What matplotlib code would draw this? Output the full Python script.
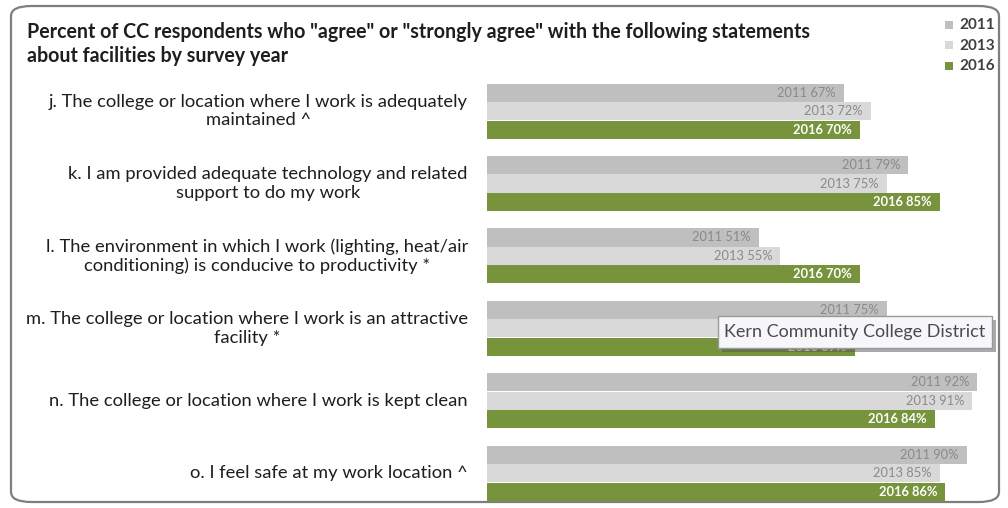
import numpy as np
import matplotlib
matplotlib.use("Agg")
import matplotlib.pyplot as plt
from matplotlib.patches import FancyBboxPatch, Rectangle

plt.rcParams["font.family"] = ["Lato", "DejaVu Sans"]

statements = [
    "j. The college or location where I work is adequately\nmaintained ^",
    "k. I am provided adequate technology and related\nsupport to do my work",
    "l. The environment in which I work (lighting, heat/air\nconditioning) is conducive to productivity *",
    "m. The college or location where I work is an attractive\nfacility *",
    "n. The college or location where I work is kept clean",
    "o. I feel safe at my work location ^",
]
years = ["2011", "2013", "2016"]
pct_2011 = [67, 79, 51, 75, 92, 90]
pct_2013 = [72, 75, 55, 72, 91, 85]
pct_2016 = [70, 85, 70, 69, 84, 86]

BAR_COLORS = ["#bfbfbf", "#d9d9d9", "#77933c"]
LBL_COLORS = ["#8a8a8a", "#8a8a8a", "white"]
INK = "#1e1e1e"

W, H = 1008, 508
fig = plt.figure(figsize=(W / 100, H / 100), dpi=100)

# rounded outer frame
fig.patches.append(FancyBboxPatch((11 / W, 6 / H), 988 / W, 496 / H,
                                  boxstyle="round,pad=0,rounding_size=0.02",
                                  transform=fig.transFigure, facecolor="none",
                                  edgecolor="#7f7f7f", lw=1.6, zorder=-1))

# axes placed so 1% = ~5.33px, starting at x=487px
ax = fig.add_axes([487 / W, (H - 505) / H, (95 * 5.33) / W, 425 / H])
ax.set_xlim(0, 95)
ax.set_ylim(5.44, -0.43)
ax.axis("off")

y = np.arange(len(statements))
offsets = [-0.255, 0.0, 0.255]
series = [pct_2011, pct_2013, pct_2016]
for k, (vals, yr) in enumerate(zip(series, years)):
    bars = ax.barh(y + offsets[k], vals, height=0.25, color=BAR_COLORS[k], zorder=2)
    for b, v in zip(bars, vals):
        ax.text(v - 1.5, b.get_y() + b.get_height() / 2, f"{yr} {v}%",
                ha="right", va="center", fontsize=9.3, color=LBL_COLORS[k],
                fontweight="bold" if k == 2 else "normal", zorder=3)

for i, s in enumerate(statements):
    ax.text(-3.6, i, s, ha="right", va="center", multialignment="center",
            fontsize=13.2, color=INK, linespacing=1.2)

# title
fig.text(27 / W, 1 - 44 / H,
         'Percent of CC respondents who "agree" or "strongly agree" with the following statements\n'
         'about facilities by survey year',
         ha="left", va="center", fontsize=14.1, fontweight="bold", color=INK, linespacing=1.3)

# legend
for k, yr in enumerate(years):
    ly = 1 - (25 + 20.5 * k) / H
    fig.patches.append(Rectangle((945 / W, ly - 4 / H), 8 / W, 8 / H, transform=fig.transFigure,
                                 facecolor=BAR_COLORS[k], edgecolor="none"))
    fig.text(959 / W, ly, yr, ha="left", va="center", fontsize=11, fontweight="bold", color="#404040")

# tooltip overlay
fig.patches.append(Rectangle((722 / W, 1 - 352 / H), 274 / W, 32 / H, transform=fig.transFigure,
                             facecolor="#555555", edgecolor="none", alpha=0.5, zorder=5))
fig.patches.append(Rectangle((718 / W, 1 - 348 / H), 274 / W, 32 / H, transform=fig.transFigure,
                             facecolor="#f7f7fb", edgecolor="#9a9a9a", lw=1, zorder=6))
fig.text(855 / W, 1 - 332 / H, "Kern Community College District", ha="center", va="center",
         fontsize=13, color="#4a4a4a", zorder=7)

fig.savefig("out.png", dpi=100)
